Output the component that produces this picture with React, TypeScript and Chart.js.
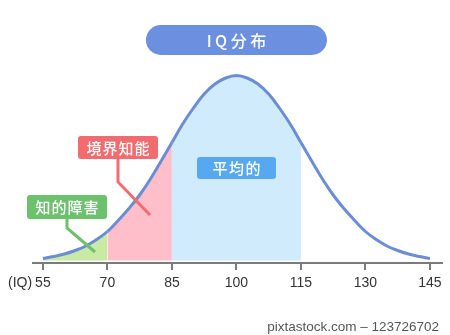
import React, { useEffect, useRef } from 'react';
import { Chart, registerables } from 'chart.js';

Chart.register(...registerables);

// ---- data ----
const iqValues = [
  55, 57.5, 60, 62.5, 65, 67.5, 70, 72.5, 75, 77.5, 80, 82.5, 85, 87.5, 90, 92.5, 95, 97.5,
  100, 102.5, 105, 107.5, 110, 112.5, 115, 117.5, 120, 122.5, 125, 127.5, 130, 132.5, 135,
  137.5, 140, 142.5, 145,
];
const curveHeights = [
  4.5, 6.5, 9, 12.5, 17, 23.5, 31.5, 42.5, 54.5, 68, 84, 102, 120.5, 139, 155, 169, 179, 185,
  187.5, 185, 179, 169, 155, 139, 120.5, 102, 84, 68, 54.5, 42.5, 31.5, 23.5, 17, 12.5, 9, 6.5,
  4.5,
];
const tickLabels = [55, 70, 85, 100, 115, 130, 145];
const bandStarts = [55, 70, 85];
const bandEnds = [70, 85, 115];
const bandNames = ['知的障害', '境界知能', '平均的'];
const titleText = 'IQ分布';
const axisUnit = '(IQ)';
const sourceText = 'pixtastock.com – 123726702';

// ---- styles ----
const bandFillColors = ['#c8eaa5', '#ffbfca', '#d0ebfc'];
const calloutColors = ['#6cc06e', '#f26b6e', '#56a9f1'];
const curveColor = '#6b8dd3';
const axisColor = '#7b7b7b';
const jpFont = '"Noto Sans CJK JP", "Noto Sans", sans-serif';
const numFont = '"Liberation Sans", Arial, sans-serif';

function roundRect(ctx: CanvasRenderingContext2D, x: number, y: number, w: number, h: number, r: number) {
  ctx.beginPath();
  ctx.moveTo(x + r, y);
  ctx.lineTo(x + w - r, y);
  ctx.arcTo(x + w, y, x + w, y + r, r);
  ctx.lineTo(x + w, y + h - r);
  ctx.arcTo(x + w, y + h, x + w - r, y + h, r);
  ctx.lineTo(x + r, y + h);
  ctx.arcTo(x, y + h, x, y + h - r, r);
  ctx.lineTo(x, y + r);
  ctx.arcTo(x, y, x + r, y, r);
  ctx.closePath();
}

function drawLabel(
  ctx: CanvasRenderingContext2D,
  text: string,
  x: number,
  y: number,
  w: number,
  h: number,
  r: number,
  color: string,
  size: number,
  spacing: number,
) {
  ctx.save();
  ctx.fillStyle = color;
  roundRect(ctx, x, y, w, h, r);
  ctx.fill();
  ctx.fillStyle = '#ffffff';
  ctx.font = `500 ${size}px ${jpFont}`;
  (ctx as any).letterSpacing = `${spacing}px`;
  ctx.textAlign = 'center';
  ctx.textBaseline = 'middle';
  ctx.fillText(text, x + w / 2 + spacing / 2, y + h / 2 + 0.5);
  ctx.restore();
}

function drawPointer(ctx: CanvasRenderingContext2D, pts: number[][], color: string) {
  ctx.save();
  ctx.strokeStyle = color;
  ctx.lineWidth = 3;
  ctx.lineJoin = 'miter';
  ctx.lineCap = 'butt';
  ctx.beginPath();
  ctx.moveTo(pts[0][0], pts[0][1]);
  for (let i = 1; i < pts.length; i++) ctx.lineTo(pts[i][0], pts[i][1]);
  ctx.stroke();
  ctx.restore();
}

const annotationPlugin = {
  id: 'iqAnnotations',
  afterDatasetsDraw(chart: any) {
    const { ctx } = chart;
    const xs = chart.scales.x;
    const cx = xs.getPixelForValue(100);

    // title pill
    drawLabel(ctx, titleText, cx - 90.5, 25, 181, 30, 15, '#6b90e0', 16, 3.5);

    // pointers (drawn before boxes)
    drawPointer(ctx, [[118, 158], [118, 182], [150, 215]], calloutColors[1]);
    drawPointer(ctx, [[67, 218], [67, 228], [95, 252]], calloutColors[0]);

    // callouts
    drawLabel(ctx, bandNames[1], 78, 136, 80, 23, 3, calloutColors[1], 15, 1);
    drawLabel(ctx, bandNames[0], 27, 195, 80, 24, 3, calloutColors[0], 15, 1);
    drawLabel(ctx, bandNames[2], 197, 157, 79, 22, 3, calloutColors[2], 15, 1.5);

    // axis unit
    ctx.save();
    ctx.fillStyle = '#333333';
    ctx.font = `14px ${numFont}`;
    ctx.textAlign = 'left';
    ctx.textBaseline = 'middle';
    ctx.fillText(axisUnit, 8, 283.5);
    // source line
    ctx.fillStyle = '#555555';
    ctx.font = `13.5px ${numFont}`;
    ctx.textAlign = 'right';
    ctx.fillText(sourceText, 439, 327);
    ctx.restore();
  },
};

export default function App() {
  const canvasRef = useRef<HTMLCanvasElement | null>(null);

  useEffect(() => {
    if (!canvasRef.current) return;
    const points = iqValues.map((x, i) => ({ x, y: curveHeights[i] }));
    const bandColorFor = (x: number) => {
      for (let i = 0; i < bandStarts.length; i++) {
        if (x >= bandStarts[i] && x < bandEnds[i]) return bandFillColors[i];
      }
      return 'rgba(255,255,255,0)';
    };
    const chart = new Chart(canvasRef.current, {
      type: 'line',
      data: {
        datasets: [
          {
            data: points,
            borderColor: curveColor,
            borderWidth: 3,
            pointRadius: 0,
            tension: 0.4,
            fill: { value: 2.5 },
            backgroundColor: 'rgba(255,255,255,0)',
            segment: {
              backgroundColor: (c: any) => bandColorFor(c.p0.parsed.x),
            },
          } as any,
        ],
      },
      options: {
        animation: false,
        responsive: true,
        maintainAspectRatio: false,
        layout: { padding: { top: 60, bottom: 42, left: 33, right: 8 } },
        plugins: { legend: { display: false }, tooltip: { enabled: false } },
        scales: {
          x: {
            type: 'linear',
            min: 52.7,
            max: 147.8,
            afterBuildTicks: (s: any) => {
              s.ticks = tickLabels.map((v) => ({ value: v }));
            },
            afterFit: (s: any) => {
              s.height = 30;
            },
            grid: {
              drawOnChartArea: false,
              drawTicks: true,
              tickLength: 7,
              color: axisColor,
              lineWidth: 2,
            },
            border: { display: true, color: axisColor, width: 2 },
            ticks: {
              color: '#333333',
              font: { family: numFont, size: 14 },
              padding: 5,
              maxRotation: 0,
              autoSkip: false,
            },
          },
          y: { display: false, min: 0, max: 203 },
        },
      } as any,
      plugins: [annotationPlugin],
    });
    return () => chart.destroy();
  }, []);

  return (
    <div style={{ position: 'fixed', left: 0, top: 0, width: 450, height: 335, background: '#fff' }}>
      <canvas ref={canvasRef} />
    </div>
  );
}
